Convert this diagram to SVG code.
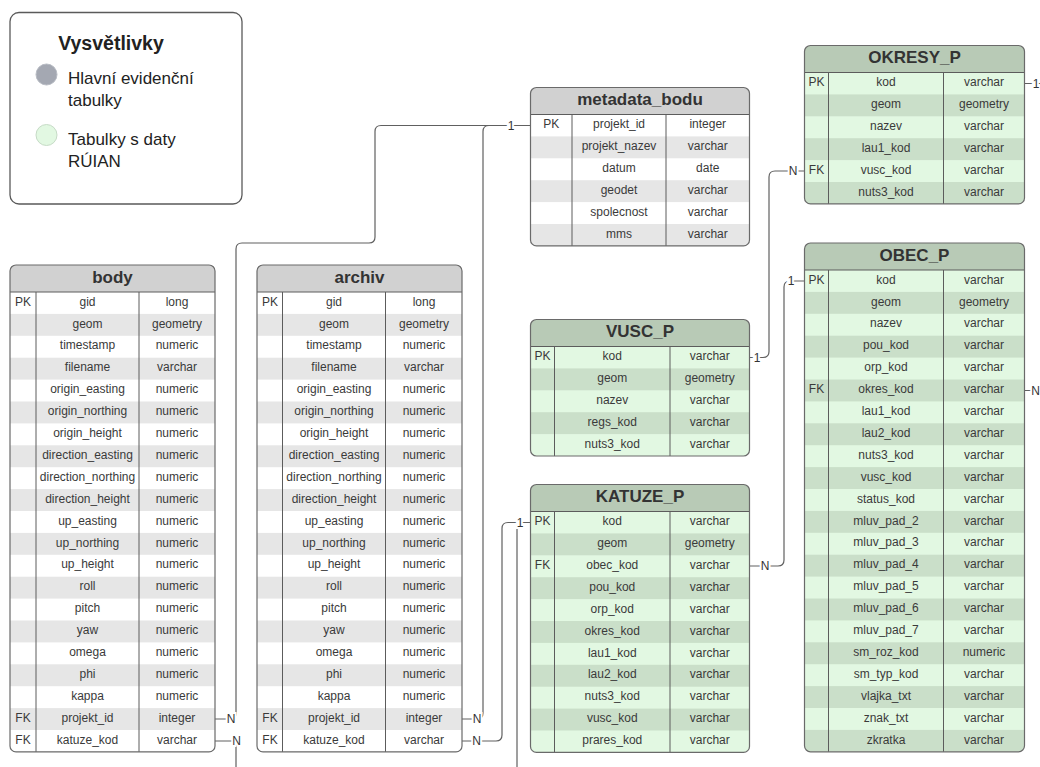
<svg xmlns="http://www.w3.org/2000/svg" width="1040" height="767" viewBox="0 0 1040 767">
  <style>
    .frame{fill:none;stroke:#6a6a6a;stroke-width:1.2}
    .div{fill:none;stroke:#5c5c5c;stroke-width:1}
    .bg-w{fill:#ffffff}
    .hd-g{fill:#d1d1d1}
    .st-g{fill:#e6e6e6}
    .bg-n{fill:#e2f8e2}
    .hd-n{fill:#b8cab6}
    .st-n{fill:#cadfc9}
    .t{font-family:"Liberation Sans",Arial,sans-serif;font-size:12px;fill:#3a3a3a;text-anchor:middle}
    .h{font-family:"Liberation Sans",Arial,sans-serif;font-size:17px;font-weight:bold;fill:#333333;text-anchor:middle}
    .conn{fill:none;stroke:#606060;stroke-width:1.2}
    .lbl{font-family:"Liberation Sans",Arial,sans-serif;font-size:12px;fill:#333333;text-anchor:middle;stroke:#ffffff;stroke-width:4;paint-order:stroke}
    .leg{font-family:"Liberation Sans",Arial,sans-serif;font-size:17px;fill:#222222}
  </style>
  <defs>
    <clipPath id="clip-g21"><rect width="205" height="486.9" rx="6"/></clipPath>
    <clipPath id="clip-meta"><rect width="219" height="158.4" rx="6"/></clipPath>
    <clipPath id="clip-ok"><rect width="220" height="158.4" rx="6"/></clipPath>
    <clipPath id="clip-obec"><rect width="220" height="508.8" rx="6"/></clipPath>
    <clipPath id="clip-vusc"><rect width="219" height="136.5" rx="6"/></clipPath>
    <clipPath id="clip-kat"><rect width="219" height="267.9" rx="6"/></clipPath>
  </defs>

  <!-- legend -->
  <g id="legend">
    <rect x="10" y="12.5" width="232" height="191.5" rx="9" fill="#ffffff" stroke="#5a5a5a" stroke-width="1.3"/>
    <text x="111" y="49.5" font-family="Liberation Sans, Arial, sans-serif" font-size="19.5" font-weight="bold" fill="#222222" text-anchor="middle">Vysvětlivky</text>
    <circle cx="46.5" cy="74.5" r="10.5" fill="#a4a8b2" stroke="#b8bcc4" stroke-width="1"/>
    <text class="leg" x="68" y="84">Hlavní evidenční</text>
    <text class="leg" x="68" y="105.5">tabulky</text>
    <circle cx="46.5" cy="135" r="10.5" fill="#e2f8e2" stroke="#c6dbc6" stroke-width="1"/>
    <text class="leg" x="68" y="144.5">Tabulky s daty</text>
    <text class="leg" x="68" y="166.5">RÚIAN</text>
  </g>

  <!-- relationships -->
  <g id="connectors">
    <path class="conn" d="M530.5,125.5 H381 Q375,125.5 375,131.5 V237 Q375,243 369,243 H242 Q236,243 236,249 V713 Q236,719 230,719 H215"/>
    <path class="conn" d="M530.5,125.5 H489 Q483,125.5 483,131.5 V713 Q483,719 477,719 H462"/>
    <path class="conn" d="M462,741 H496 Q502,741 502,735 V528.5 Q502,522.5 508,522.5 H530.5"/>
    <path class="conn" d="M215,741 H236 V800 H517 V528.5 Q517,522.5 523,522.5 H530.5"/>
    <path class="conn" d="M749.5,357.5 H763 Q769,357.5 769,351.5 V177 Q769,171 775,171 H804.5"/>
    <path class="conn" d="M749.5,566 H778 Q784,566 784,560 V287 Q784,281 790,281 H804.5"/>
    <path class="conn" d="M1024.5,83.5 H1060 V390.5 H1024.5"/>
    <text class="lbl" x="511" y="129.5">1</text>
    <text class="lbl" x="231" y="723">N</text>
    <text class="lbl" x="477" y="723">N</text>
    <text class="lbl" x="476.5" y="745">N</text>
    <text class="lbl" x="236.5" y="745">N</text>
    <text class="lbl" x="520" y="526.5">1</text>
    <text class="lbl" x="757" y="361.5">1</text>
    <text class="lbl" x="793" y="175">N</text>
    <text class="lbl" x="765" y="570">N</text>
    <text class="lbl" x="791" y="285">1</text>
    <text class="lbl" x="1036" y="87.5">1</text>
    <text class="lbl" x="1035.5" y="394.5">N</text>
  </g>

  <!-- body -->
  <g id="body" transform="translate(10,265)">
    <g clip-path="url(#clip-g21)">
      <rect class="bg-w" width="205" height="486.9"/>
      <rect class="hd-g" width="205" height="27"/>
      <rect class="st-g" y="48.9" width="205" height="21.9"/>
      <rect class="st-g" y="92.7" width="205" height="21.9"/>
      <rect class="st-g" y="136.5" width="205" height="21.9"/>
      <rect class="st-g" y="180.3" width="205" height="21.9"/>
      <rect class="st-g" y="224.1" width="205" height="21.9"/>
      <rect class="st-g" y="267.9" width="205" height="21.9"/>
      <rect class="st-g" y="311.7" width="205" height="21.9"/>
      <rect class="st-g" y="355.5" width="205" height="21.9"/>
      <rect class="st-g" y="399.3" width="205" height="21.9"/>
      <rect class="st-g" y="443.1" width="205" height="21.9"/>
    </g>
    <path class="div" d="M0,27H205 M26,27V486.9 M129,27V486.9"/>
    <rect class="frame" width="205" height="486.9" rx="6"/>
    <text class="h" x="102.5" y="17.5">body</text>
    <text class="t" x="13" y="40.6">PK</text><text class="t" x="77.5" y="40.6">gid</text><text class="t" x="167" y="40.6">long</text>
    <text class="t" x="77.5" y="62.5">geom</text><text class="t" x="167" y="62.5">geometry</text>
    <text class="t" x="77.5" y="84.4">timestamp</text><text class="t" x="167" y="84.4">numeric</text>
    <text class="t" x="77.5" y="106.3">filename</text><text class="t" x="167" y="106.3">varchar</text>
    <text class="t" x="77.5" y="128.2">origin_easting</text><text class="t" x="167" y="128.2">numeric</text>
    <text class="t" x="77.5" y="150.1">origin_northing</text><text class="t" x="167" y="150.1">numeric</text>
    <text class="t" x="77.5" y="172">origin_height</text><text class="t" x="167" y="172">numeric</text>
    <text class="t" x="77.5" y="193.9">direction_easting</text><text class="t" x="167" y="193.9">numeric</text>
    <text class="t" x="77.5" y="215.8">direction_northing</text><text class="t" x="167" y="215.8">numeric</text>
    <text class="t" x="77.5" y="237.7">direction_height</text><text class="t" x="167" y="237.7">numeric</text>
    <text class="t" x="77.5" y="259.6">up_easting</text><text class="t" x="167" y="259.6">numeric</text>
    <text class="t" x="77.5" y="281.5">up_northing</text><text class="t" x="167" y="281.5">numeric</text>
    <text class="t" x="77.5" y="303.4">up_height</text><text class="t" x="167" y="303.4">numeric</text>
    <text class="t" x="77.5" y="325.3">roll</text><text class="t" x="167" y="325.3">numeric</text>
    <text class="t" x="77.5" y="347.2">pitch</text><text class="t" x="167" y="347.2">numeric</text>
    <text class="t" x="77.5" y="369.1">yaw</text><text class="t" x="167" y="369.1">numeric</text>
    <text class="t" x="77.5" y="391">omega</text><text class="t" x="167" y="391">numeric</text>
    <text class="t" x="77.5" y="412.9">phi</text><text class="t" x="167" y="412.9">numeric</text>
    <text class="t" x="77.5" y="434.8">kappa</text><text class="t" x="167" y="434.8">numeric</text>
    <text class="t" x="13" y="456.7">FK</text><text class="t" x="77.5" y="456.7">projekt_id</text><text class="t" x="167" y="456.7">integer</text>
    <text class="t" x="13" y="478.6">FK</text><text class="t" x="77.5" y="478.6">katuze_kod</text><text class="t" x="167" y="478.6">varchar</text>
  </g>

  <!-- archiv -->
  <g id="archiv" transform="translate(257,265)">
    <g clip-path="url(#clip-g21)">
      <rect class="bg-w" width="205" height="486.9"/>
      <rect class="hd-g" width="205" height="27"/>
      <rect class="st-g" y="48.9" width="205" height="21.9"/>
      <rect class="st-g" y="92.7" width="205" height="21.9"/>
      <rect class="st-g" y="136.5" width="205" height="21.9"/>
      <rect class="st-g" y="180.3" width="205" height="21.9"/>
      <rect class="st-g" y="224.1" width="205" height="21.9"/>
      <rect class="st-g" y="267.9" width="205" height="21.9"/>
      <rect class="st-g" y="311.7" width="205" height="21.9"/>
      <rect class="st-g" y="355.5" width="205" height="21.9"/>
      <rect class="st-g" y="399.3" width="205" height="21.9"/>
      <rect class="st-g" y="443.1" width="205" height="21.9"/>
    </g>
    <path class="div" d="M0,27H205 M25.5,27V486.9 M128.5,27V486.9"/>
    <rect class="frame" width="205" height="486.9" rx="6"/>
    <text class="h" x="102.5" y="17.5">archiv</text>
    <text class="t" x="13" y="40.6">PK</text><text class="t" x="77" y="40.6">gid</text><text class="t" x="167" y="40.6">long</text>
    <text class="t" x="77" y="62.5">geom</text><text class="t" x="167" y="62.5">geometry</text>
    <text class="t" x="77" y="84.4">timestamp</text><text class="t" x="167" y="84.4">numeric</text>
    <text class="t" x="77" y="106.3">filename</text><text class="t" x="167" y="106.3">varchar</text>
    <text class="t" x="77" y="128.2">origin_easting</text><text class="t" x="167" y="128.2">numeric</text>
    <text class="t" x="77" y="150.1">origin_northing</text><text class="t" x="167" y="150.1">numeric</text>
    <text class="t" x="77" y="172">origin_height</text><text class="t" x="167" y="172">numeric</text>
    <text class="t" x="77" y="193.9">direction_easting</text><text class="t" x="167" y="193.9">numeric</text>
    <text class="t" x="77" y="215.8">direction_northing</text><text class="t" x="167" y="215.8">numeric</text>
    <text class="t" x="77" y="237.7">direction_height</text><text class="t" x="167" y="237.7">numeric</text>
    <text class="t" x="77" y="259.6">up_easting</text><text class="t" x="167" y="259.6">numeric</text>
    <text class="t" x="77" y="281.5">up_northing</text><text class="t" x="167" y="281.5">numeric</text>
    <text class="t" x="77" y="303.4">up_height</text><text class="t" x="167" y="303.4">numeric</text>
    <text class="t" x="77" y="325.3">roll</text><text class="t" x="167" y="325.3">numeric</text>
    <text class="t" x="77" y="347.2">pitch</text><text class="t" x="167" y="347.2">numeric</text>
    <text class="t" x="77" y="369.1">yaw</text><text class="t" x="167" y="369.1">numeric</text>
    <text class="t" x="77" y="391">omega</text><text class="t" x="167" y="391">numeric</text>
    <text class="t" x="77" y="412.9">phi</text><text class="t" x="167" y="412.9">numeric</text>
    <text class="t" x="77" y="434.8">kappa</text><text class="t" x="167" y="434.8">numeric</text>
    <text class="t" x="13" y="456.7">FK</text><text class="t" x="77" y="456.7">projekt_id</text><text class="t" x="167" y="456.7">integer</text>
    <text class="t" x="13" y="478.6">FK</text><text class="t" x="77" y="478.6">katuze_kod</text><text class="t" x="167" y="478.6">varchar</text>
  </g>

  <!-- metadata_bodu -->
  <g id="metadata_bodu" transform="translate(530.5,87.5)">
    <g clip-path="url(#clip-meta)">
      <rect class="bg-w" width="219" height="158.4"/>
      <rect class="hd-g" width="219" height="27"/>
      <rect class="st-g" y="48.9" width="219" height="21.9"/>
      <rect class="st-g" y="92.7" width="219" height="21.9"/>
      <rect class="st-g" y="136.5" width="219" height="21.9"/>
    </g>
    <path class="div" d="M0,27H219 M41.5,27V158.4 M135.5,27V158.4"/>
    <rect class="frame" width="219" height="158.4" rx="6"/>
    <text class="h" x="109.5" y="17.5">metadata_bodu</text>
    <text class="t" x="20.75" y="40.6">PK</text><text class="t" x="88.5" y="40.6">projekt_id</text><text class="t" x="177.25" y="40.6">integer</text>
    <text class="t" x="88.5" y="62.5">projekt_nazev</text><text class="t" x="177.25" y="62.5">varchar</text>
    <text class="t" x="88.5" y="84.4">datum</text><text class="t" x="177.25" y="84.4">date</text>
    <text class="t" x="88.5" y="106.3">geodet</text><text class="t" x="177.25" y="106.3">varchar</text>
    <text class="t" x="88.5" y="128.2">spolecnost</text><text class="t" x="177.25" y="128.2">varchar</text>
    <text class="t" x="88.5" y="150.1">mms</text><text class="t" x="177.25" y="150.1">varchar</text>
  </g>

  <!-- OKRESY_P -->
  <g id="OKRESY_P" transform="translate(804.5,45.5)">
    <g clip-path="url(#clip-ok)">
      <rect class="bg-n" width="220" height="158.4"/>
      <rect class="hd-n" width="220" height="27"/>
      <rect class="st-n" y="48.9" width="220" height="21.9"/>
      <rect class="st-n" y="92.7" width="220" height="21.9"/>
      <rect class="st-n" y="136.5" width="220" height="21.9"/>
    </g>
    <path class="div" d="M0,27H220 M24,27V158.4 M139,27V158.4"/>
    <rect class="frame" width="220" height="158.4" rx="6"/>
    <text class="h" x="110" y="17.5">OKRESY_P</text>
    <text class="t" x="12" y="40.6">PK</text><text class="t" x="81.5" y="40.6">kod</text><text class="t" x="179.5" y="40.6">varchar</text>
    <text class="t" x="81.5" y="62.5">geom</text><text class="t" x="179.5" y="62.5">geometry</text>
    <text class="t" x="81.5" y="84.4">nazev</text><text class="t" x="179.5" y="84.4">varchar</text>
    <text class="t" x="81.5" y="106.3">lau1_kod</text><text class="t" x="179.5" y="106.3">varchar</text>
    <text class="t" x="12" y="128.2">FK</text><text class="t" x="81.5" y="128.2">vusc_kod</text><text class="t" x="179.5" y="128.2">varchar</text>
    <text class="t" x="81.5" y="150.1">nuts3_kod</text><text class="t" x="179.5" y="150.1">varchar</text>
  </g>

  <!-- OBEC_P -->
  <g id="OBEC_P" transform="translate(804.5,243)">
    <g clip-path="url(#clip-obec)">
      <rect class="bg-n" width="220" height="508.8"/>
      <rect class="hd-n" width="220" height="27"/>
      <rect class="st-n" y="48.9" width="220" height="21.9"/>
      <rect class="st-n" y="92.7" width="220" height="21.9"/>
      <rect class="st-n" y="136.5" width="220" height="21.9"/>
      <rect class="st-n" y="180.3" width="220" height="21.9"/>
      <rect class="st-n" y="224.1" width="220" height="21.9"/>
      <rect class="st-n" y="267.9" width="220" height="21.9"/>
      <rect class="st-n" y="311.7" width="220" height="21.9"/>
      <rect class="st-n" y="355.5" width="220" height="21.9"/>
      <rect class="st-n" y="399.3" width="220" height="21.9"/>
      <rect class="st-n" y="443.1" width="220" height="21.9"/>
      <rect class="st-n" y="486.9" width="220" height="21.9"/>
    </g>
    <path class="div" d="M0,27H220 M24,27V508.8 M139,27V508.8"/>
    <rect class="frame" width="220" height="508.8" rx="6"/>
    <text class="h" x="110" y="17.5">OBEC_P</text>
    <text class="t" x="12" y="40.6">PK</text><text class="t" x="81.5" y="40.6">kod</text><text class="t" x="179.5" y="40.6">varchar</text>
    <text class="t" x="81.5" y="62.5">geom</text><text class="t" x="179.5" y="62.5">geometry</text>
    <text class="t" x="81.5" y="84.4">nazev</text><text class="t" x="179.5" y="84.4">varchar</text>
    <text class="t" x="81.5" y="106.3">pou_kod</text><text class="t" x="179.5" y="106.3">varchar</text>
    <text class="t" x="81.5" y="128.2">orp_kod</text><text class="t" x="179.5" y="128.2">varchar</text>
    <text class="t" x="12" y="150.1">FK</text><text class="t" x="81.5" y="150.1">okres_kod</text><text class="t" x="179.5" y="150.1">varchar</text>
    <text class="t" x="81.5" y="172">lau1_kod</text><text class="t" x="179.5" y="172">varchar</text>
    <text class="t" x="81.5" y="193.9">lau2_kod</text><text class="t" x="179.5" y="193.9">varchar</text>
    <text class="t" x="81.5" y="215.8">nuts3_kod</text><text class="t" x="179.5" y="215.8">varchar</text>
    <text class="t" x="81.5" y="237.7">vusc_kod</text><text class="t" x="179.5" y="237.7">varchar</text>
    <text class="t" x="81.5" y="259.6">status_kod</text><text class="t" x="179.5" y="259.6">varchar</text>
    <text class="t" x="81.5" y="281.5">mluv_pad_2</text><text class="t" x="179.5" y="281.5">varchar</text>
    <text class="t" x="81.5" y="303.4">mluv_pad_3</text><text class="t" x="179.5" y="303.4">varchar</text>
    <text class="t" x="81.5" y="325.3">mluv_pad_4</text><text class="t" x="179.5" y="325.3">varchar</text>
    <text class="t" x="81.5" y="347.2">mluv_pad_5</text><text class="t" x="179.5" y="347.2">varchar</text>
    <text class="t" x="81.5" y="369.1">mluv_pad_6</text><text class="t" x="179.5" y="369.1">varchar</text>
    <text class="t" x="81.5" y="391">mluv_pad_7</text><text class="t" x="179.5" y="391">varchar</text>
    <text class="t" x="81.5" y="412.9">sm_roz_kod</text><text class="t" x="179.5" y="412.9">numeric</text>
    <text class="t" x="81.5" y="434.8">sm_typ_kod</text><text class="t" x="179.5" y="434.8">varchar</text>
    <text class="t" x="81.5" y="456.7">vlajka_txt</text><text class="t" x="179.5" y="456.7">varchar</text>
    <text class="t" x="81.5" y="478.6">znak_txt</text><text class="t" x="179.5" y="478.6">varchar</text>
    <text class="t" x="81.5" y="500.5">zkratka</text><text class="t" x="179.5" y="500.5">varchar</text>
  </g>

  <!-- VUSC_P -->
  <g id="VUSC_P" transform="translate(530.5,319.5)">
    <g clip-path="url(#clip-vusc)">
      <rect class="bg-n" width="219" height="136.5"/>
      <rect class="hd-n" width="219" height="27"/>
      <rect class="st-n" y="48.9" width="219" height="21.9"/>
      <rect class="st-n" y="92.7" width="219" height="21.9"/>
    </g>
    <path class="div" d="M0,27H219 M24,27V136.5 M139.5,27V136.5"/>
    <rect class="frame" width="219" height="136.5" rx="6"/>
    <text class="h" x="109.5" y="17.5">VUSC_P</text>
    <text class="t" x="12" y="40.6">PK</text><text class="t" x="81.75" y="40.6">kod</text><text class="t" x="179.25" y="40.6">varchar</text>
    <text class="t" x="81.75" y="62.5">geom</text><text class="t" x="179.25" y="62.5">geometry</text>
    <text class="t" x="81.75" y="84.4">nazev</text><text class="t" x="179.25" y="84.4">varchar</text>
    <text class="t" x="81.75" y="106.3">regs_kod</text><text class="t" x="179.25" y="106.3">varchar</text>
    <text class="t" x="81.75" y="128.2">nuts3_kod</text><text class="t" x="179.25" y="128.2">varchar</text>
  </g>

  <!-- KATUZE_P -->
  <g id="KATUZE_P" transform="translate(530.5,484.5)">
    <g clip-path="url(#clip-kat)">
      <rect class="bg-n" width="219" height="267.9"/>
      <rect class="hd-n" width="219" height="27"/>
      <rect class="st-n" y="48.9" width="219" height="21.9"/>
      <rect class="st-n" y="92.7" width="219" height="21.9"/>
      <rect class="st-n" y="136.5" width="219" height="21.9"/>
      <rect class="st-n" y="180.3" width="219" height="21.9"/>
      <rect class="st-n" y="224.1" width="219" height="21.9"/>
    </g>
    <path class="div" d="M0,27H219 M24,27V267.9 M139.5,27V267.9"/>
    <rect class="frame" width="219" height="267.9" rx="6"/>
    <text class="h" x="109.5" y="17.5">KATUZE_P</text>
    <text class="t" x="12" y="40.6">PK</text><text class="t" x="81.75" y="40.6">kod</text><text class="t" x="179.25" y="40.6">varchar</text>
    <text class="t" x="81.75" y="62.5">geom</text><text class="t" x="179.25" y="62.5">geometry</text>
    <text class="t" x="12" y="84.4">FK</text><text class="t" x="81.75" y="84.4">obec_kod</text><text class="t" x="179.25" y="84.4">varchar</text>
    <text class="t" x="81.75" y="106.3">pou_kod</text><text class="t" x="179.25" y="106.3">varchar</text>
    <text class="t" x="81.75" y="128.2">orp_kod</text><text class="t" x="179.25" y="128.2">varchar</text>
    <text class="t" x="81.75" y="150.1">okres_kod</text><text class="t" x="179.25" y="150.1">varchar</text>
    <text class="t" x="81.75" y="172">lau1_kod</text><text class="t" x="179.25" y="172">varchar</text>
    <text class="t" x="81.75" y="193.9">lau2_kod</text><text class="t" x="179.25" y="193.9">varchar</text>
    <text class="t" x="81.75" y="215.8">nuts3_kod</text><text class="t" x="179.25" y="215.8">varchar</text>
    <text class="t" x="81.75" y="237.7">vusc_kod</text><text class="t" x="179.25" y="237.7">varchar</text>
    <text class="t" x="81.75" y="259.6">prares_kod</text><text class="t" x="179.25" y="259.6">varchar</text>
  </g>
</svg>
